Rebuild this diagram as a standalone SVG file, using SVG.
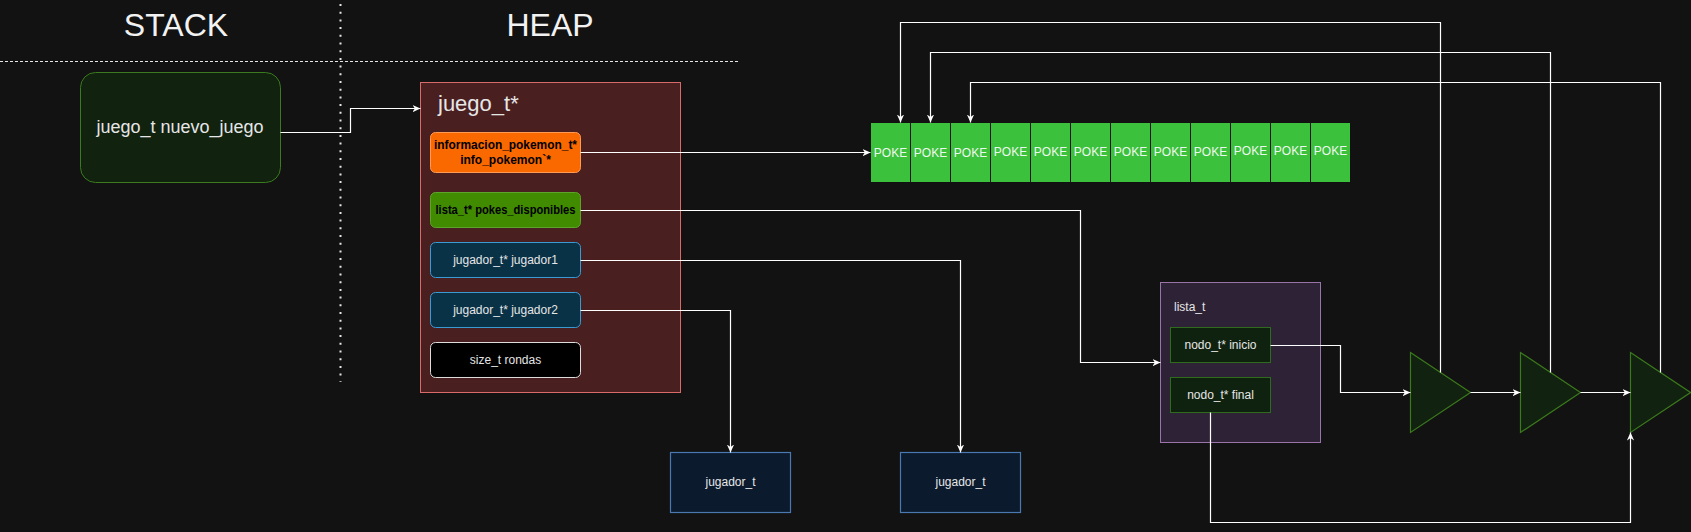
<svg xmlns="http://www.w3.org/2000/svg" width="1691" height="532" viewBox="0 0 1691 532">
<defs>
<marker id="arr" viewBox="0 0 10 10" refX="10" refY="5" markerWidth="8" markerHeight="8" markerUnits="userSpaceOnUse" orient="auto">
<path d="M0,0.5 L10,5 L0,9.5 L3,5 z" fill="#ffffff"/>
</marker>
<style>
text{font-family:"Liberation Sans",Arial,sans-serif;}
.t12{font-size:12px;fill:#e6e6e6;text-anchor:middle;}
.b12{font-size:12px;font-weight:bold;fill:#000;text-anchor:middle;}
.head{font-size:32px;fill:#f2f2f2;text-anchor:middle;}
.poke{fill:#3bc13b;stroke:#111;stroke-width:1;}
.ptx{font-size:12px;fill:#eef7ee;text-anchor:middle;}
.conn{fill:none;stroke:#ffffff;stroke-width:1.2;}
.jb{fill:#0a3246;stroke:#3c9ad3;stroke-width:1;}
.tri{fill:#112210;stroke:#3b7a1c;stroke-width:1.2;}
.nodo{fill:#0f220f;stroke:#2e6b1c;stroke-width:1;}
.jt{fill:#0c1a2d;stroke:#4a78b0;stroke-width:1.2;}
</style>
</defs>
<rect x="0" y="0" width="1691" height="532" fill="#121212"/>

<g id="separators">
<line x1="340.5" y1="4" x2="340.5" y2="382" stroke="#e6e6e6" stroke-width="2" stroke-dasharray="2 5.7"/>
<line x1="0" y1="61.5" x2="740" y2="61.5" stroke="#e6e6e6" stroke-width="1" stroke-dasharray="3 2"/>
</g>

<g id="headings">
<text class="head" x="176" y="36" font-size="31">STACK</text>
<text class="head" x="550" y="36">HEAP</text>
</g>

<g id="nuevo_juego">
<rect x="80.5" y="72.5" width="200" height="110" rx="15" fill="#11220f" stroke="#3b7a1f" stroke-width="1"/>
<text x="180" y="133" font-size="18" fill="#e6e6e6" text-anchor="middle">juego_t nuevo_juego</text>
</g>

<g id="juego_t">
<rect x="420.5" y="82.5" width="260" height="310" fill="#4a1f20" stroke="#d86a6a" stroke-width="1"/>
<text x="438" y="111" font-size="22" fill="#e6e6e6">juego_t*</text>
</g>

<g id="info_pokemon">
<rect x="430.5" y="132.5" width="150" height="40" rx="5" fill="#fa6800" stroke="#ff9a55" stroke-width="1"/>
<text class="b12" x="505.5" y="149" textLength="143" lengthAdjust="spacingAndGlyphs">informacion_pokemon_t*</text>
<text class="b12" x="505.5" y="163.5">info_pokemon`*</text>
</g>

<g id="pokes_disponibles">
<rect x="430.5" y="192.5" width="150" height="35" rx="5" fill="#418b00" stroke="#5ea32a" stroke-width="1"/>
<text class="b12" x="505.5" y="214" textLength="140" lengthAdjust="spacingAndGlyphs">lista_t* pokes_disponibles</text>
</g>

<g id="jugador1">
<rect class="jb" x="430.5" y="242.5" width="150" height="35" rx="5"/>
<text class="t12" x="505.5" y="264">jugador_t* jugador1</text>
</g>

<g id="jugador2">
<rect class="jb" x="430.5" y="292.5" width="150" height="35" rx="5"/>
<text class="t12" x="505.5" y="314">jugador_t* jugador2</text>
</g>

<g id="rondas">
<rect x="430.5" y="342.5" width="150" height="35" rx="5" fill="#000000" stroke="#dddddd" stroke-width="1"/>
<text class="t12" x="505.5" y="364">size_t rondas</text>
</g>

<g id="poke_array">
<rect class="poke" x="870.5" y="122.5" width="40" height="60"/>
<rect class="poke" x="910.5" y="122.5" width="40" height="60"/>
<rect class="poke" x="950.5" y="122.5" width="40" height="60"/>
<rect class="poke" x="990.5" y="122.5" width="40" height="60"/>
<rect class="poke" x="1030.5" y="122.5" width="40" height="60"/>
<rect class="poke" x="1070.5" y="122.5" width="40" height="60"/>
<rect class="poke" x="1110.5" y="122.5" width="40" height="60"/>
<rect class="poke" x="1150.5" y="122.5" width="40" height="60"/>
<rect class="poke" x="1190.5" y="122.5" width="40" height="60"/>
<rect class="poke" x="1230.5" y="122.5" width="40" height="60"/>
<rect class="poke" x="1270.5" y="122.5" width="40" height="60"/>
<rect class="poke" x="1310.5" y="122.5" width="40" height="60"/>
<text class="ptx" x="890.5" y="157">POKE</text>
<text class="ptx" x="930.5" y="157">POKE</text>
<text class="ptx" x="970.5" y="157">POKE</text>
<text class="ptx" x="1010.5" y="156">POKE</text>
<text class="ptx" x="1050.5" y="156">POKE</text>
<text class="ptx" x="1090.5" y="156">POKE</text>
<text class="ptx" x="1130.5" y="156">POKE</text>
<text class="ptx" x="1170.5" y="156">POKE</text>
<text class="ptx" x="1210.5" y="156">POKE</text>
<text class="ptx" x="1250.5" y="155">POKE</text>
<text class="ptx" x="1290.5" y="155">POKE</text>
<text class="ptx" x="1330.5" y="155">POKE</text>
</g>

<g id="jugador_t_1">
<rect class="jt" x="670.5" y="452.5" width="120" height="60"/>
<text class="t12" x="730.5" y="486">jugador_t</text>
</g>
<g id="jugador_t_2">
<rect class="jt" x="900.5" y="452.5" width="120" height="60"/>
<text class="t12" x="960.5" y="486">jugador_t</text>
</g>

<g id="lista_t">
<rect x="1160.5" y="282.5" width="160" height="160" fill="#2e2336" stroke="#9a74a8" stroke-width="1"/>
<text x="1174" y="311" font-size="12" fill="#e6e6e6">lista_t</text>
</g>
<g id="nodo_inicio">
<rect class="nodo" x="1170.5" y="327.5" width="100" height="35"/>
<text class="t12" x="1220.5" y="349">nodo_t* inicio</text>
</g>
<g id="nodo_final">
<rect class="nodo" x="1170.5" y="377.5" width="100" height="35"/>
<text class="t12" x="1220.5" y="399">nodo_t* final</text>
</g>

<g id="nodo1"><polygon class="tri" points="1410.5,352.5 1470.5,392.5 1410.5,432.5"/></g>
<g id="nodo2"><polygon class="tri" points="1520.5,352.5 1580.5,392.5 1520.5,432.5"/></g>
<g id="nodo3"><polygon class="tri" points="1630.5,352.5 1690.5,392.5 1630.5,432.5"/></g>

<g id="connectors">
<path class="conn" d="M280.5,132.5 H350.5 V108.5 H420.5" marker-end="url(#arr)"/>
<path class="conn" d="M580.5,152.5 H870.5" marker-end="url(#arr)"/>
<path class="conn" d="M580.5,210.5 H1080.5 V362.5 H1160.5" marker-end="url(#arr)"/>
<path class="conn" d="M580.5,260.5 H960.5 V452.5" marker-end="url(#arr)"/>
<path class="conn" d="M580.5,310.5 H730.5 V452.5" marker-end="url(#arr)"/>
<path class="conn" d="M1270.5,345.5 H1340.5 V392.5 H1410.5" marker-end="url(#arr)"/>
<path class="conn" d="M1470.5,392.5 H1520.5" marker-end="url(#arr)"/>
<path class="conn" d="M1580.5,392.5 H1630.5" marker-end="url(#arr)"/>
<path class="conn" d="M1210.5,412.5 V522.5 H1630.5 V432.5" marker-end="url(#arr)"/>
<path class="conn" d="M1440.5,372.5 V22.5 H900.5 V122.5" marker-end="url(#arr)"/>
<path class="conn" d="M1550.5,372.5 V52.5 H930.5 V122.5" marker-end="url(#arr)"/>
<path class="conn" d="M1660.5,372.5 V82.5 H970.5 V122.5" marker-end="url(#arr)"/>
</g>
</svg>
